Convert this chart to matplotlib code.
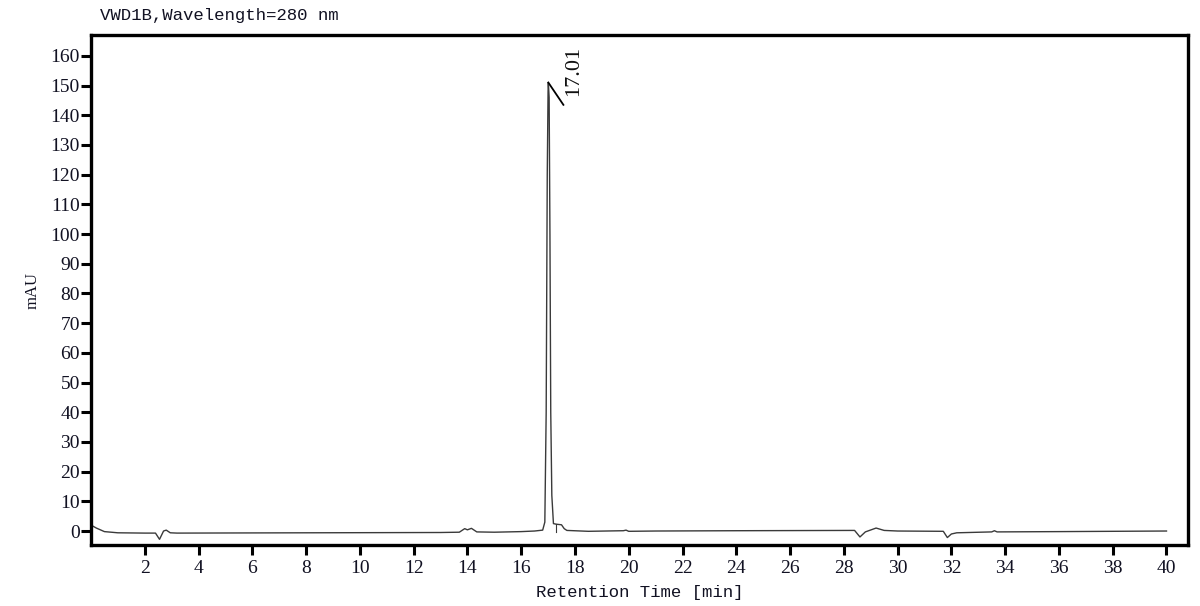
import numpy as np
import matplotlib.pyplot as plt

# chromatogram trace (time in min, signal in mAU)
time_min = [0.0, 0.2, 0.5, 1.0, 2.0, 2.4, 2.55, 2.7, 2.8, 2.95, 3.2, 8.0,
            13.0, 13.7, 13.9, 14.0, 14.15, 14.35, 15.0, 16.0, 16.5, 16.8,
            16.88, 16.93, 16.97, 17.0, 17.01, 17.04, 17.07, 17.1, 17.14,
            17.2, 17.3, 17.5, 17.6, 17.7, 18.5, 19.8, 19.9, 20.0, 21.0,
            24.0, 28.4, 28.6, 28.8, 29.2, 29.5, 30.0, 31.7, 31.85, 32.0,
            32.2, 33.5, 33.6, 33.7, 36.0, 40.0]
signal = [2.0, 1.0, -0.2, -0.6, -0.7, -0.7, -2.8, 0.0, 0.3, -0.6, -0.7, -0.6,
          -0.5, -0.4, 0.8, 0.4, 0.9, -0.3, -0.4, -0.2, 0.0, 0.3,
          3.0, 40.0, 120.0, 148.0, 151.0, 146.0, 100.0, 40.0, 12.0,
          2.5, 2.3, 2.1, 0.8, 0.2, -0.1, 0.1, 0.3, -0.1, 0.0,
          0.1, 0.2, -2.0, -0.3, 1.0, 0.2, 0.0, -0.1, -2.2, -1.0,
          -0.6, -0.3, 0.1, -0.3, -0.2, 0.0]

peak_rt = 17.01
peak_height = 151.0
x_ticks = list(range(2, 41, 2))
y_ticks = list(range(0, 161, 10))

fig = plt.figure(figsize=(12, 6.06), dpi=100)
ax = fig.add_axes([0.0758, 0.1007, 0.9142, 0.8415])

ax.plot(time_min, signal, color='#3a3a3a', lw=1.0)
# integration drop line at the shoulder
ax.plot([17.3, 17.3], [-0.2, 2.3], color='#3a3a3a', lw=0.8)

# peak label with tilted pointer
ax.plot([peak_rt, 17.57], [peak_height, 143.5], color='black', lw=1.3)
ax.text(17.58, 146.5, "17.01", rotation=90, ha='left', va='bottom',
        fontsize=16, family='Liberation Serif', color='#111111')

ax.set_xlim(0, 40.8)
ax.set_ylim(-4.7, 167)
ax.set_xticks(x_ticks)
ax.set_yticks(y_ticks)
ax.tick_params(direction='out', length=7, width=2.2, labelsize=14,
               labelcolor='#111122')
for lab in ax.get_xticklabels() + ax.get_yticklabels():
    lab.set_family('Liberation Serif')
ax.tick_params(axis='y', pad=1)
for s in ax.spines.values():
    s.set_linewidth(2.4)

ax.set_xlabel("Retention Time [min]", family='Liberation Mono', fontsize=12.5,
              color='#111122', labelpad=6)
ax.set_ylabel("mAU", family='Liberation Serif', fontsize=12, color='#111122',
              labelpad=7)
fig.text(0.083, 0.975, "VWD1B,Wavelength=280 nm", family='Liberation Mono',
         fontsize=12.5, color='#111122', va='center', ha='left')

fig.savefig("out.png", dpi=100)
